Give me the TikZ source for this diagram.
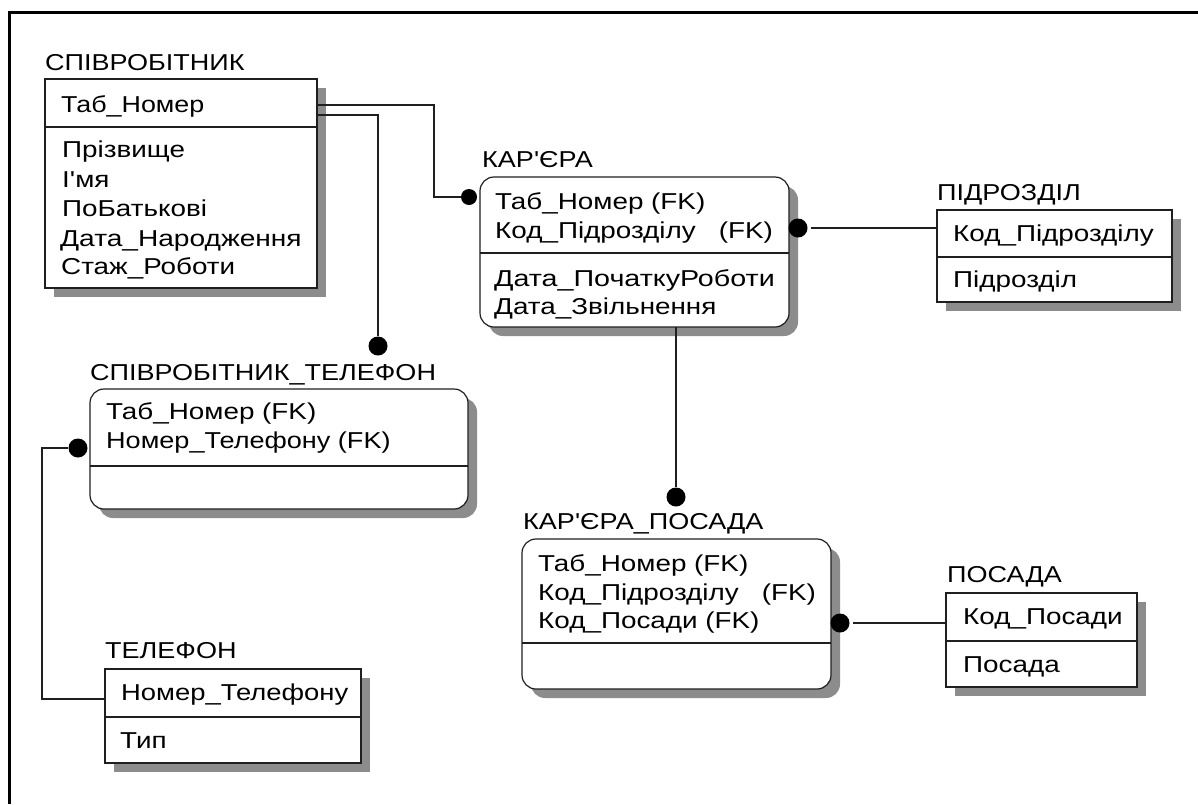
\documentclass[tikz,border=0pt]{standalone}
\usepackage{fontspec}
\newfontfamily\erfont[FakeStretch=1.21]{Liberation Sans}
\newfontfamily\ertitle[FakeStretch=1.175]{Liberation Sans}
\usetikzlibrary{calc,shadows}
\definecolor{shade}{gray}{0.55}
\definecolor{ink}{gray}{0.12}
\tikzset{
  ent/.style={draw=ink,fill=white,line width=1.2pt,anchor=north west,inner sep=0pt,outer sep=0pt,
    general shadow={fill=shade,shadow xshift=9pt,shadow yshift=-9pt}},
  sq/.style={ent},
  rnd/.style={ent,rounded corners=14pt},
  lab/.style={anchor=base west,inner sep=0pt,font=\erfont\fontsize{23}{26}\selectfont,text=black},
  ttl/.style={anchor=base west,inner sep=0pt,font=\ertitle\fontsize{23}{26}\selectfont,text=black},
  dotn/.style={circle,fill=black,inner sep=0pt,minimum size=19pt},
  conn/.style={draw=ink,line width=1.2pt},
  frameline/.style={draw=black,line width=3pt}
}
\newcommand{\divline}[2]{\draw[conn] ($(#1.north west)+(0,#2)$) -- ($(#1.north east)+(0,#2)$);}
\begin{document}
\begin{tikzpicture}[x=1pt,y=-1pt]
\useasboundingbox (0,0) rectangle (1198,804);
\fill[white] (0,0) rectangle (1198,804);
\coordinate (f1) at (9.5,804);
\coordinate (f2) at (9.5,12.5);
\coordinate (f3) at (1198,12.5);
\draw[frameline] (f1) -- (f2) -- (f3);

% entity boxes
\node[sq,minimum width=272pt,minimum height=209pt] (sp) at (45,79) {};
\node[rnd,minimum width=309pt,minimum height=150pt] (ka) at (480,177) {};
\node[sq,minimum width=235pt,minimum height=92pt] (pd) at (937,210) {};
\node[rnd,minimum width=378pt,minimum height=120pt] (st) at (90,389) {};
\node[rnd,minimum width=309pt,minimum height=150pt] (kp) at (522,539) {};
\node[sq,minimum width=191pt,minimum height=94pt] (po) at (946,593) {};
\node[sq,minimum width=256pt,minimum height=94pt] (te) at (105,669) {};

\divline{sp}{48}
\divline{ka}{76}
\divline{pd}{47}
\divline{st}{77}
\divline{kp}{104}
\divline{po}{48}
\divline{te}{48}

% titles
\node[ttl] (tsp) at (45,70) {СПІВРОБІТНИК};
\node[ttl] (tka) at (482,167) {КАР'ЄРА};
\node[ttl] (tpd) at (937,200) {ПІДРОЗДІЛ};
\node[ttl] (tst) at (90,380) {СПІВРОБІТНИК\_ТЕЛЕФОН};
\node[ttl] (tkp) at (523,529) {КАР'ЄРА\_ПОСАДА};
\node[ttl] (tpo) at (947,582) {ПОСАДА};
\node[ttl] (tte) at (105,658) {ТЕЛЕФОН};

% attributes
\node[lab,xscale=.965] (sp1t) at (61,112) {Таб\_Номер};
\node[lab] (sp2t) at (62,157) {Прізвище};
\node[lab] (sp3t) at (62,187) {І'мя};
\node[lab] (sp4t) at (62,216) {ПоБатькові};
\node[lab,xscale=1.01] (sp5t) at (60,246) {Дата\_Народження};
\node[lab] (sp6t) at (61,274) {Стаж\_Роботи};

\node[lab] (ka1t) at (495,209) {Таб\_Номер (FK)};
\node[lab] (ka2t) at (495,238) {Код\_Підрозділу\ \ \ (FK)};
\node[lab,xscale=1.03] (ka3t) at (494,286) {Дата\_ПочаткуРоботи};
\node[lab] (ka4t) at (494,314) {Дата\_Звільнення};

\node[lab] (pd1t) at (953,241) {Код\_Підрозділу};
\node[lab] (pd2t) at (953,287) {Підрозділ};

\node[lab] (st1t) at (106,419) {Таб\_Номер (FK)};
\node[lab,xscale=.973] (st2t) at (106,448) {Номер\_Телефону (FK)};

\node[lab] (kp1t) at (538,571) {Таб\_Номер (FK)};
\node[lab] (kp2t) at (538,600) {Код\_Підрозділу\ \ \ (FK)};
\node[lab] (kp3t) at (538,628) {Код\_Посади (FK)};

\node[lab] (po1t) at (963,624) {Код\_Посади};
\node[lab] (po2t) at (963,672) {Посада};

\node[lab,xscale=.985] (te1t) at (121,700) {Номер\_Телефону};
\node[lab] (te2t) at (120,748) {Тип};

% relationship end dots
\node[dotn,minimum size=16pt] (d1) at (469,197) {};
\node[dotn] (d2) at (378,346) {};
\node[dotn] (d3) at (798,228) {};
\node[dotn] (d4) at (676,497) {};
\node[dotn] (d5) at (840,623) {};
\node[dotn] (d6) at (78,448) {};

% connector ports
\coordinate (p1) at (317,105);
\coordinate (p2) at (317,115);
\coordinate (j1) at (434,197);
\coordinate (j6) at (42,448);
\coordinate (p6) at (105,699);

\draw[conn] (p1) -| (j1) -- (d1);
\draw[conn] (p2) -| (d2);
\draw[conn,shorten <=3pt] (d3) -- (pd.west |- d3);
\draw[conn] (ka.south -| d4) -- (d4);
\draw[conn,shorten <=3pt] (d5) -- (po.west |- d5);
\draw[conn] (d6) -- (j6) |- (p6);
\end{tikzpicture}
\end{document}
